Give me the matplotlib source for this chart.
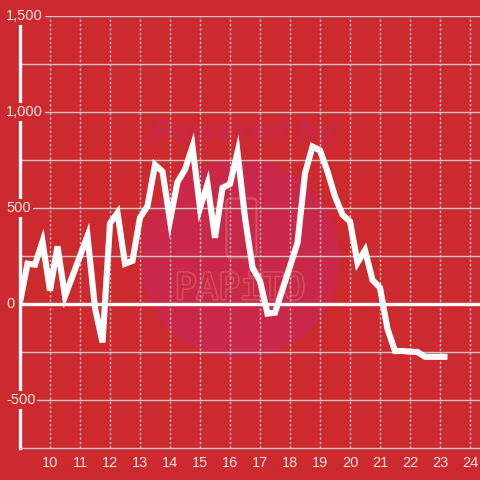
import matplotlib
matplotlib.use("Agg")
import matplotlib.pyplot as plt
from matplotlib.patches import Circle, FancyBboxPatch
import matplotlib.patheffects as pe

# ---- data (quarter-hour samples) ----
hours = [9.00, 9.25, 9.50, 9.75, 10.00, 10.25, 10.50, 11.25, 11.50, 11.75,
         12.00, 12.25, 12.50, 12.75, 13.00, 13.25, 13.50, 13.75, 14.00, 14.25,
         14.50, 14.75, 15.00, 15.25, 15.50, 15.75, 16.00, 16.25, 16.50, 16.75,
         17.00, 17.25, 17.50, 18.25, 18.50, 18.75, 19.00, 19.25, 19.50, 19.75,
         20.00, 20.25, 20.50, 20.75, 21.00, 21.25, 21.50, 21.75, 22.00, 22.25,
         22.50, 22.75, 23.00, 23.25]
values = [10, 210, 205, 325, 70, 300, 40, 355, -20, -200,
          420, 475, 210, 225, 450, 510, 725, 690, 435, 635,
          700, 820, 500, 625, 345, 605, 625, 790, 450, 190,
          120, -50, -45, 318, 680, 820, 800, 690, 560, 465,
          430, 215, 280, 125, 85, -130, -245, -245, -248, -250,
          -275, -275, -275, -275]

x_ticks = list(range(10, 25))
y_grid = [-500, -250, 250, 500, 750, 1000, 1250, 1500]
y_labels = {1500: "1,500", 1000: "1,000", 500: "500", 0: "0", -500: "-500"}

BG = "#CC2A2E"
GRID = "#CFC6C6"
TXT = "#F3E4E4"

fig = plt.figure(figsize=(4.8, 4.8), dpi=100)
fig.patch.set_facecolor(BG)
W = H = 480.0
ax = fig.add_axes([20 / W, 32 / H, 460 / W, 432 / H])
ax.set_facecolor(BG)
ax.set_xlim(9.0, 9.0 + 460 / 30)
ax.set_ylim(-750, 1500)

# watermark
circ = Circle((240 / W, 1 - 259 / H), 100 / W, transform=fig.transFigure,
              facecolor="#CA2848", edgecolor="none", zorder=0.5)
ax.add_patch(circ)
ax.text(243 / W, 1 - 133 / H, "Powered by", transform=fig.transFigure,
        ha="center", va="center", fontsize=20, fontweight="bold",
        fontstyle="italic", color="#C8284A", zorder=0.6)
logo = FancyBboxPatch((228 / W, 1 - 256 / H), 27 / W, 56 / H,
                      boxstyle="round,pad=0.003,rounding_size=0.008",
                      transform=fig.transFigure, facecolor="none",
                      edgecolor="#D4505E", lw=1.6, zorder=0.6)
ax.add_patch(logo)
ax.text(240 / W, 1 - 289 / H, "PAPiTO", transform=fig.transFigure,
        ha="center", va="center", fontsize=26, color="#CA2848",
        family="DejaVu Sans Mono", zorder=0.6,
        path_effects=[pe.withStroke(linewidth=2.2, foreground="#D4505E")])

# grid
for v in y_grid:
    ax.axhline(v, color=GRID, lw=1.0, zorder=1)
ax.axhline(0, color="white", lw=2.4, zorder=1.2)
for h in x_ticks:
    ax.axvline(h, color=GRID, lw=1.0, dashes=(1.6, 1.6), zorder=1)

# line
ax.plot(hours, values, color="white", lw=4.4, solid_joinstyle="miter",
        solid_capstyle="butt", zorder=3)

# spines
for s in ["top", "right"]:
    ax.spines[s].set_visible(False)
ax.spines["left"].set_color("white")
ax.spines["left"].set_linewidth(2.4)
ax.spines["bottom"].set_color(GRID)
ax.spines["bottom"].set_linewidth(1.0)

ax.set_xticks(x_ticks)
ax.set_xticklabels([str(t) for t in x_ticks])
ax.tick_params(axis="x", length=0, pad=6, labelsize=10.5, labelcolor=TXT)
for lab in ax.get_xticklabels():
    lab.set_family("Liberation Sans")
ax.set_yticks([])

for v, s in y_labels.items():
    ax.text(9.0 - 14 / 30, v, s, ha="left", va="center", fontsize=10.5,
            color=TXT, family="Liberation Sans", zorder=10, clip_on=False,
            bbox=dict(facecolor=BG, edgecolor="none", pad=1.4))

fig.savefig("out.png", dpi=100, facecolor=BG)
